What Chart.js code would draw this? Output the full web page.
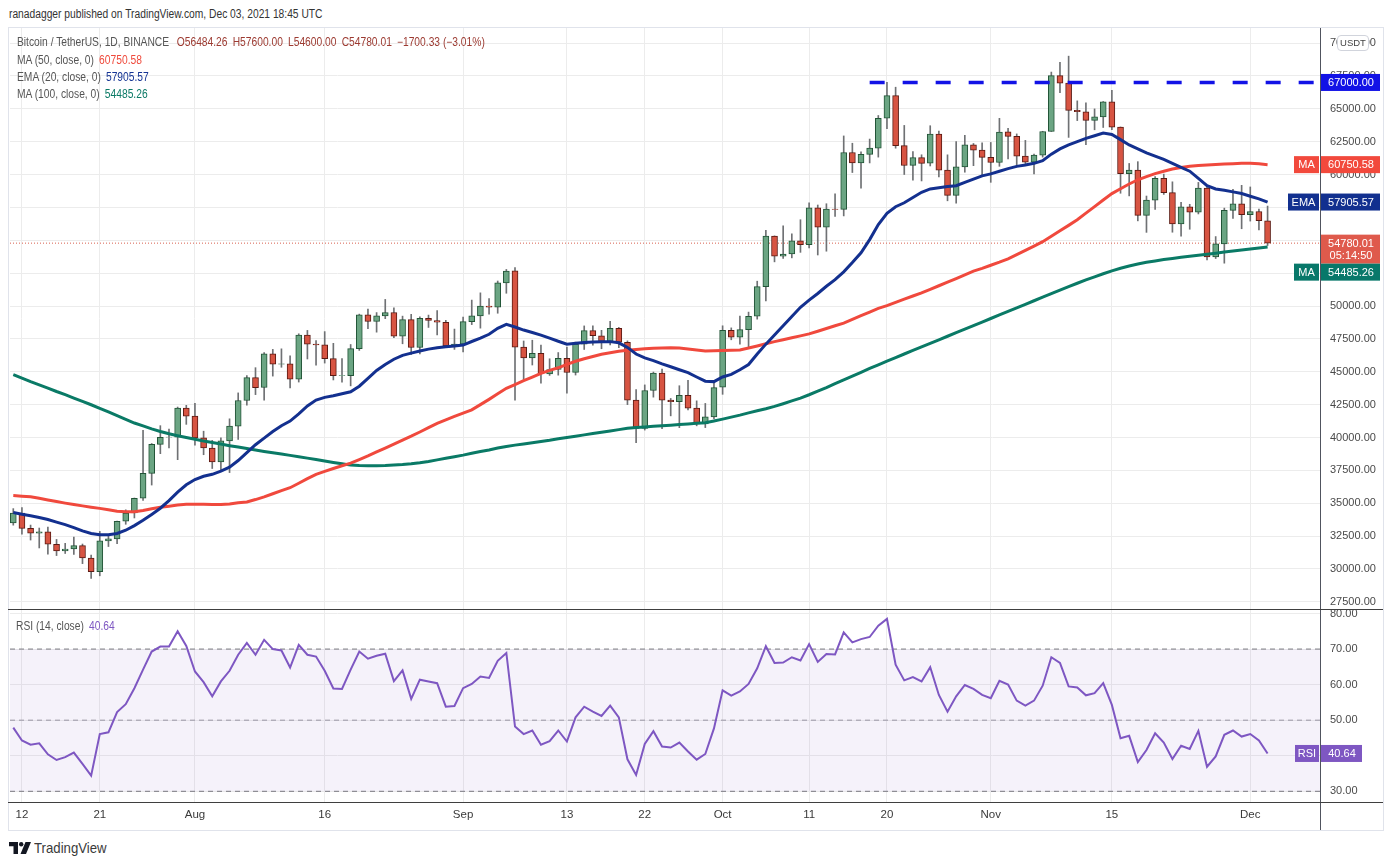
<!DOCTYPE html>
<html lang="en">
  <head>
    <meta charset="utf-8" />
    <meta name="viewport" content="width=device-width, initial-scale=1" />
    <title>BTCUSDT 1D</title>
    <style>
      * {
        margin: 0;
        padding: 0;
      }
      body {
        width: 1394px;
        height: 865px;
        position: relative;
        overflow: hidden;
        background: #fff;
        color: #333;
        font-family: "Liberation Sans", Arial, sans-serif;
      }
      .abs {
        position: absolute;
      }
      .frame {
        left: 8px;
        top: 27px;
        width: 1374px;
        height: 802px;
        border: 1px solid #e0e3eb;
      }
      .narrow {
        transform: scaleX(0.855);
        transform-origin: 0 0;
        white-space: nowrap;
      }
      .header {
        left: 9px;
        top: 7px;
        font-size: 12px;
        color: #333;
      }
      .legend {
        left: 17px;
        font-size: 12px;
        color: #555;
        line-height: 14px;
      }
      .legend span {
        margin-left: 6px;
      }
      .box {
        position: absolute;
      }
      .usdt {
        left: 1337px;
        top: 35px;
        width: 30px;
        height: 14px;
        border: 1px solid #d1d4dc;
        border-radius: 4px;
        background: #fff;
        font-size: 9.5px;
        line-height: 14px;
        text-align: center;
        color: #444;
      }
      .logoMark {
        left: 9px;
        top: 842px;
      }
      .logo {
        left: 34px;
        top: 839px;
        font-size: 15px;
        color: #3a3a3a;
        transform: scaleX(0.88);
      }
    </style>
  </head>
  <body>
    <div class="abs frame"></div>

    <div class="box" style="left:0; top:28px; width:1384px; height:581px;">
      <canvas id="priceChart"></canvas>
    </div>
    <div class="box" style="left:0; top:609px; width:1384px; height:221px;">
      <canvas id="rsiChart"></canvas>
    </div>

    <!-- pane separators and price scale border -->
    <div class="abs" style="left:1320px; top:28px; width:1px; height:802px; background:#50535e;"></div>
    <div class="abs" style="left:8px; top:609px; width:1375px; height:1px; background:#3f3f3f;"></div>
    <div class="abs" style="left:8px; top:802px; width:1375px; height:1px; background:#3f3f3f;"></div>
    <div class="abs usdt">USDT</div>

    <div class="abs narrow header">ranadagger published on TradingView.com, Dec 03, 2021 18:45 UTC</div>
    <div class="abs narrow legend" id="legend1" style="top:35px;"></div>
    <div class="abs narrow legend" id="legend2" style="top:53px;"></div>
    <div class="abs narrow legend" id="legend3" style="top:70px;"></div>
    <div class="abs narrow legend" id="legend4" style="top:87px;"></div>
    <div class="abs narrow legend" id="legendRsi" style="top:619px; left:16px;"></div>

    <svg class="abs logoMark" width="22" height="12" viewBox="0 0 22 12">
      <path d="M0 0 H9 V12 H4.5 V4.2 H0 Z" fill="#131722" />
      <circle cx="12.2" cy="2.2" r="2.2" fill="#131722" />
      <path d="M16.5 0 H22 L17 12 H11.5 Z" fill="#131722" />
    </svg>
    <div class="abs narrow logo">TradingView</div>

    <script src="https://cdn.jsdelivr.net/npm/chart.js"></script>
    <script>
      // daily candles, Jul 11 2021 (index 0) .. Dec 03 2021 (index 145)
      const opens = [
        33510, 34259, 33087, 32730, 32821, 31874, 31384, 31521, 31778, 30839,
        29791, 32144, 32287, 33634, 34261, 35382, 37276, 39473, 40016, 40018,
        42236, 41627, 39975, 39201, 38151, 39747, 40870, 42817, 44555, 43799,
        46366, 45585, 45593, 44428, 47793, 47096, 47048, 46004, 44695, 44710,
        46761, 49322, 48821, 49254, 49507, 47707, 48961, 46843, 49069, 48896,
        48764, 46970, 47100, 48810, 49246, 49999, 49918, 51756, 52666, 46868,
        46048, 46395, 44842, 45173, 46026, 44950, 47104, 48122, 47737, 47299,
        48294, 47241, 42843, 40694, 43574, 44895, 42839, 42716, 43208, 42236,
        41025, 41564, 43820, 48142, 47634, 48200, 49225, 51471, 55316, 53785,
        53955, 54949, 54660, 57471, 55997, 57370, 57347, 61672, 60876, 61528,
        62005, 64280, 66001, 62193, 60689, 61286, 60853, 63078, 60328, 58413,
        60575, 62253, 61859, 61300, 60911, 63254, 62897, 61395, 60940, 61470,
        63273, 67525, 66947, 64883, 64774, 64122, 64380, 65520, 63606, 60059,
        60345, 56891, 58057, 59707, 58617, 56247, 57541, 57138, 58960, 53723,
        54716, 57275, 57776, 56951, 57185, 56484.26,
      ];
      const highs = [
        34592, 34679, 33341, 33115, 33186, 32249, 31950, 32435, 31899, 31063,
        32858, 32591, 33650, 34500, 35398, 40550, 39543, 40900, 40640, 42316,
        42448, 42599, 40480, 39780, 39968, 41420, 43392, 44700, 45310, 46456,
        46700, 46743, 46219, 47887, 48144, 47372, 48053, 47160, 46000, 47073,
        49382, 49757, 49500, 50500, 49855, 49230, 49365, 49185, 49309, 49643,
        48910, 48246, 49156, 50450, 51000, 50558, 51900, 52780, 52920, 47340,
        47399, 47033, 45987, 46460, 46876, 47250, 48486, 48500, 48150, 48843,
        48372, 47347, 43639, 44000, 44978, 45200, 42970, 43937, 44350, 42787,
        42590, 44141, 48495, 48336, 49228, 49536, 51886, 55750, 55332, 56100,
        55489, 56561, 57839, 57680, 57777, 58532, 62933, 62378, 61718, 62695,
        64487, 67000, 66639, 63732, 61747, 61500, 63710, 63293, 61496, 62499,
        62980, 62359, 62405, 62437, 64270, 63516, 63086, 62595, 61560, 63286,
        67789, 68524, 69000, 65600, 65450, 64990, 65550, 66401, 63617, 60840,
        60976, 58363, 59845, 60029, 59444, 57875, 57735, 59398, 59150, 55280,
        57445, 58865, 59176, 59053, 57375, 57600.0,
      ];
      const lows = [
        33333, 32658, 32202, 31600, 31133, 31021, 31179, 31108, 30408, 29278,
        29482, 31708, 31925, 33401, 33881, 35206, 36384, 38772, 39200, 38313,
        41000, 39423, 38690, 37642, 37509, 37332, 39853, 42450, 43261, 42848,
        44669, 45341, 43770, 44217, 45971, 45500, 45660, 44376, 44203, 43927,
        46622, 48280, 48010, 49035, 47600, 47127, 46315, 46364, 48370, 47801,
        46853, 46700, 46512, 48584, 48316, 49370, 49450, 50969, 42843, 44412,
        45513, 44132, 44722, 44742, 43371, 44750, 46694, 47020, 46750, 47033,
        46829, 42500, 39600, 40565, 43069, 40675, 41646, 40750, 42098, 40888,
        40753, 41410, 43283, 47430, 47088, 46891, 49000, 50382, 53357, 53618,
        53661, 54080, 54415, 53879, 54167, 56818, 56850, 60150, 58963, 60880,
        61322, 63481, 62000, 60000, 59562, 59510, 60650, 59817, 58000, 57820,
        60174, 60673, 59945, 59405, 60624, 61184, 60677, 60721, 60050, 61322,
        63273, 66222, 62822, 64100, 62278, 63400, 63576, 63400, 58574, 58373,
        56474, 55600, 57353, 58486, 55610, 55317, 55837, 57000, 53500, 53610,
        53256, 56666, 55875, 56458, 55777, 54600.0,
      ];
      const closes = [
        34259, 33087, 32730, 32821, 31880, 31384, 31521, 31778, 30839, 29791,
        32144, 32287, 33634, 34258, 35382, 37276, 39473, 40016, 40027, 42236,
        41627, 39974, 39201, 38152, 39747, 40870, 42817, 44555, 43798, 46366,
        45585, 45593, 44428, 47793, 47096, 47048, 46004, 44695, 44710, 46761,
        49322, 48821, 49254, 49506, 47707, 48960, 46843, 49069, 48895, 48767,
        46970, 47100, 48810, 49246, 49999, 49915, 51756, 52663, 46863, 46048,
        46395, 44850, 45173, 46026, 44940, 47111, 48122, 47737, 47299, 48293,
        47241, 42843, 40694, 43574, 44895, 42839, 42716, 43208, 42235, 41034,
        41564, 43790, 48141, 47634, 48200, 49224, 51471, 55315, 53785, 53951,
        54949, 54660, 57471, 55996, 57367, 57347, 61672, 60875, 61528, 62010,
        64280, 66001, 62193, 60688, 61286, 60852, 63078, 60328, 58413, 60575,
        62253, 61859, 61299, 60911, 63219, 62896, 61395, 60937, 61470, 63273,
        67525, 66947, 64882, 64774, 64122, 64380, 65519, 63606, 60058, 60344,
        56891, 58052, 59707, 58622, 56247, 57541, 57138, 58960, 53726, 54721,
        57274, 57776, 56950, 57184, 56480.34, 54780.01,
      ];

      // indicators
      const ma50 = [
        35580, 35540, 35500, 35380, 35250, 35130, 35010, 34900, 34800, 34700,
        34610, 34500, 34400, 34360, 34350, 34450, 34580, 34700, 34780, 34860,
        34920, 34930, 34920, 34910, 34900, 34950, 35030, 35100, 35280, 35480,
        35720, 35960, 36180, 36520, 36870, 37200, 37420, 37640, 37850, 38050,
        38320, 38600, 38900, 39200, 39500, 39800, 40100, 40420, 40750, 41080,
        41340, 41600, 41850, 42100, 42500, 42900, 43320, 43740, 44030, 44320,
        44600, 44880, 45100, 45300, 45560, 45800, 45990, 46160, 46330, 46440,
        46560, 46640, 46700, 46740, 46780, 46810, 46830, 46800, 46730, 46650,
        46580, 46590, 46610, 46640, 46660, 46800, 46960, 47130, 47290, 47430,
        47580, 47730, 47880, 48080, 48290, 48500, 48700, 48980, 49260, 49540,
        49820, 50030, 50280, 50520, 50760, 51000, 51270, 51540, 51810, 52090,
        52370, 52650, 52860, 53100, 53330, 53580, 53900, 54230, 54560, 54890,
        55300, 55720, 56130, 56560, 57060, 57560, 58060, 58550, 58920, 59280,
        59600, 59840, 60070, 60250, 60420, 60540, 60620, 60680, 60720, 60760,
        60790, 60820, 60850, 60850, 60810, 60750.58,
      ];
      const ema20 = [
        34300, 34160, 34050, 33920, 33760, 33560, 33370, 33150, 32900, 32700,
        32610, 32600, 32700, 32950, 33300, 33700, 34150, 34620, 35200, 35850,
        36400, 36800, 37050, 37200, 37450, 37750, 38250, 38850, 39450, 39950,
        40450, 40900, 41250, 41800, 42400, 42850, 43050, 43170, 43330, 43480,
        43900, 44500, 45100, 45550, 45950, 46250, 46420, 46580, 46720, 46830,
        46900, 46960, 47030, 47300, 47550, 47850, 48300, 48600, 48400, 48170,
        47980, 47790, 47560, 47320, 47100, 47160, 47220, 47260, 47290, 47290,
        47200, 46850, 46350, 46050, 45850, 45600, 45380, 45150, 44930, 44600,
        44280, 44250, 44600, 44800, 45150, 45550, 46350, 47100, 47800, 48500,
        49200, 49900, 50450, 50950, 51500, 52000, 52600, 53300, 54050, 55050,
        56200, 57050, 57550, 57850, 58250, 58650, 58900, 59000, 59080, 59150,
        59400, 59650, 59900, 60050, 60250, 60450, 60620, 60720, 60850, 61050,
        61550, 61950, 62250, 62500, 62750, 62950, 63150, 63050, 62650, 62250,
        61950, 61650, 61400, 61150, 60850, 60550, 60250, 59700, 59150, 58900,
        58800, 58680, 58550, 58350, 58150, 57905.57,
      ];
      const ma100 = [
        44780, 44520, 44250, 44000, 43760, 43500, 43260, 43000, 42750, 42490,
        42220, 41940, 41660, 41380, 41100, 40880, 40660, 40460, 40280, 40140,
        40000, 39860, 39740, 39620, 39500, 39380, 39270, 39160, 39050, 38940,
        38840, 38740, 38640, 38540, 38430, 38320, 38210, 38100, 38000, 37900,
        37870, 37860, 37860, 37870, 37900, 37940, 38000, 38080, 38180, 38300,
        38420, 38540, 38660, 38800, 38930, 39050, 39200, 39320, 39420, 39510,
        39600, 39700, 39790, 39900, 40000, 40100, 40200, 40300, 40400, 40500,
        40600, 40700, 40760, 40800, 40850, 40890, 40930, 40980, 41030, 41080,
        41130, 41250, 41400, 41550, 41700, 41870, 42030, 42190, 42370, 42570,
        42780, 43000, 43250, 43520, 43800, 44100, 44380, 44670, 44960, 45250,
        45530, 45800, 46080, 46350, 46620, 46890, 47160, 47430, 47700, 47970,
        48240, 48510, 48780, 49050, 49320, 49590, 49860, 50130, 50400, 50670,
        50940, 51210, 51470, 51730, 51980, 52220, 52450, 52670, 52870, 53040,
        53190, 53320, 53430, 53530, 53620, 53700, 53780, 53860, 53940, 54020,
        54100, 54180, 54260, 54340, 54410, 54485.26,
      ];
      const rsi = [
        47.9, 44.3, 43.1, 43.5, 40.4, 38.8, 39.6, 40.9, 37.7, 34.4,
        46.1, 46.6, 52.3, 54.5, 59.0, 64.2, 69.3, 70.7, 70.7, 75.0,
        70.9, 63.7, 60.7, 56.7, 60.9, 63.9, 68.4, 71.7, 68.4, 72.6,
        70.0, 69.6, 64.8, 71.2, 68.4, 67.9, 63.9, 58.9, 58.8, 64.2,
        69.3, 67.3, 68.1, 68.7, 61.0, 64.0, 56.0, 61.4, 60.9, 60.4,
        53.8, 54.0, 59.0, 60.2, 62.3, 61.9, 66.7, 68.9, 48.2, 46.1,
        47.1, 43.1, 44.1, 47.1, 44.0, 50.8, 53.8, 52.4, 51.2, 54.1,
        50.8, 39.0, 34.6, 43.3, 46.9, 42.6, 42.3, 43.7, 41.2, 38.9,
        40.5, 47.7, 58.4, 56.9, 58.1, 60.2, 64.6, 70.8, 66.1, 66.2,
        67.7, 66.8, 71.4, 66.4, 68.6, 68.5, 74.7, 71.9, 72.8, 73.4,
        76.6, 78.5, 65.6, 61.2, 62.1, 60.9, 64.9, 57.1, 52.4, 56.7,
        59.9, 58.8, 57.1, 56.2, 61.1, 60.0, 55.5, 54.1, 55.5, 59.7,
        67.7, 66.1, 59.5, 59.2, 57.0, 57.6, 60.4, 54.3, 44.9, 45.6,
        38.2, 41.6, 46.3, 43.7, 39.1, 42.8, 41.9, 47.0, 36.9, 39.8,
        45.9, 47.1, 45.4, 46.1, 44.3, 40.64,
      ];

      // axis ticks
      const tickIdx = [1, 10, 21, 36, 52, 64, 73, 82, 92, 101, 113, 127, 143];
      const tickText = ["12", "21", "Aug", "16", "Sep", "13", "22", "Oct", "11", "20", "Nov", "15", "Dec"];
      const priceTicks = [27500, 30000, 32500, 35000, 37500, 40000, 42500, 45000, 47500, 50000, 52500, 55000, 57500, 60000, 62500, 65000, 67500, 70000];
      const rsiTicks = [30, 40, 50, 60, 70, 80];

      // horizontal resistance drawn on the chart
      const levelPrice = 67000;
      const levelStart = 99;
      const countdown = "05:14:50";

      // view window
      const xMin = -0.38;
      const xMax = 151.06;
      const priceMin = 26958;
      const priceMax = 71141;
      const rsiMin = 26.99;
      const rsiMax = 81.27;

      const green = "#6ba583";
      const greenEdge = "#225437";
      const red = "#d75442";
      const redEdge = "#5b1a13";
      const gridColor = "#ececec";
      const font = '"Liberation Sans", sans-serif';

      const n = closes.length;
      const last = n - 1;
      const up = (i) => closes[i] >= opens[i];
      const series = (arr) => arr.map((v, i) => ({ x: i, y: v }));

      // legend text
      const chg = closes[last] - closes[last - 1];
      const pct = (chg / closes[last - 1]) * 100;
      const ohlcColor = "#9c3a31";
      document.getElementById("legend1").innerHTML =
        'Bitcoin / TetherUS, 1D, BINANCE<span style="color:' + ohlcColor + '; margin-left:9px">O' + opens[last].toFixed(2) +
        '</span><span style="color:' + ohlcColor + '">H' + highs[last].toFixed(2) +
        '</span><span style="color:' + ohlcColor + '">L' + lows[last].toFixed(2) +
        '</span><span style="color:' + ohlcColor + '">C' + closes[last].toFixed(2) +
        '</span><span style="color:' + ohlcColor + '">\u2212' + Math.abs(chg).toFixed(2) + " (\u2212" + Math.abs(pct).toFixed(2) + "%)</span>";
      document.getElementById("legend2").innerHTML = 'MA (50, close, 0)<span style="color:#ef4a3c">' + ma50[last].toFixed(2) + "</span>";
      document.getElementById("legend3").innerHTML = 'EMA (20, close, 0)<span style="color:#163594">' + ema20[last].toFixed(2) + "</span>";
      document.getElementById("legend4").innerHTML = 'MA (100, close, 0)<span style="color:#0b7a66">' + ma100[last].toFixed(2) + "</span>";
      document.getElementById("legendRsi").innerHTML = 'RSI (14, close)<span style="color:#7e57c2">' + rsi[last].toFixed(2) + "</span>";

      // price labels on the right scale
      function drawBadges(chart, items) {
        const { ctx, chartArea, scales } = chart;
        const right = chartArea.right;
        const h = 17;
        let prevBottom = -Infinity;
        items
          .map((it) => ({ ...it, py: scales.y.getPixelForValue(it.value) }))
          .sort((a, b) => a.py - b.py)
          .forEach((it) => {
            const boxH = h * it.lines.length - (it.lines.length > 1 ? 5 : 0);
            let top = it.py - h / 2;
            if (top < prevBottom) top = prevBottom;
            prevBottom = top + boxH;
            ctx.save();
            ctx.fillStyle = it.color;
            ctx.fillRect(right, top, it.w, boxH);
            if (it.tag) {
              ctx.fillRect(right - it.tagW - 1, top, it.tagW, h);
            }
            ctx.fillStyle = "#fff";
            ctx.font = "11px " + font;
            ctx.textBaseline = "middle";
            ctx.textAlign = "center";
            it.lines.forEach((t, k) => {
              ctx.fillText(t, right + it.w / 2 + 1, top + h / 2 + k * (h - 5) + 0.5);
            });
            if (it.tag) ctx.fillText(it.tag, right - it.tagW / 2 - 1, top + h / 2 + 0.5);
            ctx.restore();
          });
      }

      const priceBadges = {
        id: "priceBadges",
        afterDraw(chart) {
          drawBadges(chart, [
            { value: levelPrice, lines: [levelPrice.toFixed(2)], color: "#1212e6", w: 60 },
            { value: ma50[last], lines: [ma50[last].toFixed(2)], color: "#f2493c", w: 60, tag: "MA", tagW: 25 },
            { value: ema20[last], lines: [ema20[last].toFixed(2)], color: "#12308f", w: 60, tag: "EMA", tagW: 31 },
            { value: closes[last], lines: [closes[last].toFixed(2), countdown], color: "#df5a4c", w: 60 },
            { value: ma100[last], lines: [ma100[last].toFixed(2)], color: "#08786a", w: 60, tag: "MA", tagW: 25 },
          ]);
        },
      };

      const rsiBadges = {
        id: "rsiBadges",
        afterDraw(chart) {
          drawBadges(chart, [
            { value: rsi[last], lines: [rsi[last].toFixed(2)], color: "#7e57c2", w: 42, tag: "RSI", tagW: 24 },
          ]);
        },
      };

      const xScale = (showLabels) => ({
        type: "linear",
        min: xMin,
        max: xMax,
        offset: false,
        afterBuildTicks: (axis) => {
          axis.ticks = tickIdx.map((v) => ({ value: v }));
        },
        ticks: {
          display: showLabels,
          autoSkip: false,
          maxRotation: 0,
          padding: 6,
          color: "#3a3a3a",
          font: { family: font, size: 11.5 },
          callback: (v) => tickText[tickIdx.indexOf(v)],
        },
        grid: { color: gridColor, drawTicks: false, offset: false },
        border: { display: false },
        afterFit: (s) => {
          s.height = showLabels ? 28 : 0;
          s.paddingLeft = 0;
          s.paddingRight = 0;
        },
      });

      const yScale = (min, max, ticks) => ({
        position: "right",
        min: min,
        max: max,
        afterBuildTicks: (axis) => {
          axis.ticks = ticks.map((v) => ({ value: v }));
        },
        ticks: {
          padding: 10,
          color: "#4a4a4a",
          font: { family: font, size: 11 },
          callback: (v) => v.toFixed(2),
        },
        grid: { color: gridColor, drawTicks: false },
        border: { display: false },
        afterFit: (s) => {
          s.width = 64;
          s.paddingTop = 0;
          s.paddingBottom = 0;
        },
      });

      // price pane
      new Chart(document.getElementById("priceChart"), {
        type: "bar",
        data: {
          datasets: [
            {
              type: "line",
              data: [
                { x: xMin, y: closes[last] },
                { x: xMax, y: closes[last] },
              ],
              borderColor: "#d9604f",
              borderWidth: 1,
              borderDash: [1, 2],
              pointRadius: 0,
              order: 9,
            },
            {
              data: closes.map((c, i) => ({ x: i, y: [lows[i], highs[i]] })),
              backgroundColor: "#6f7174",
              barThickness: 1,
              grouped: false,
              order: 8,
            },
            {
              data: closes.map((c, i) => ({ x: i, y: [opens[i], c] })),
              backgroundColor: (ctx) => (up(ctx.dataIndex) ? green : red),
              borderColor: (ctx) => (up(ctx.dataIndex) ? greenEdge : redEdge),
              borderWidth: 1,
              borderSkipped: false,
              barThickness: 6,
              grouped: false,
              order: 7,
            },
            {
              type: "line",
              data: series(ma100),
              borderColor: "#0a7a66",
              borderWidth: 3,
              pointRadius: 0,
              order: 3,
            },
            {
              type: "line",
              data: series(ma50),
              borderColor: "#f0493d",
              borderWidth: 3,
              pointRadius: 0,
              order: 2,
            },
            {
              type: "line",
              data: series(ema20),
              borderColor: "#13308f",
              borderWidth: 3,
              pointRadius: 0,
              order: 1,
            },
            {
              type: "line",
              data: [
                { x: levelStart, y: levelPrice },
                { x: xMax, y: levelPrice },
              ],
              borderColor: "#1212e6",
              borderWidth: 3.5,
              borderDash: [15, 18],
              pointRadius: 0,
              order: 0,
            },
          ],
        },
        options: {
          responsive: true,
          maintainAspectRatio: false,
          animation: false,
          events: [],
          layout: { autoPadding: false, padding: { left: 10, right: 0, top: 0, bottom: 0 } },
          plugins: { legend: { display: false }, tooltip: { enabled: false } },
          scales: {
            x: xScale(false),
            y: yScale(priceMin, priceMax, priceTicks),
          },
        },
        plugins: [priceBadges],
      });

      // RSI pane
      new Chart(document.getElementById("rsiChart"), {
        type: "line",
        data: {
          datasets: [
            {
              data: series(rsi),
              borderColor: "#7e57c2",
              borderWidth: 2,
              pointRadius: 0,
              order: 0,
            },
            {
              data: [
                { x: xMin, y: 70 },
                { x: xMax, y: 70 },
              ],
              borderColor: "#7a7a80",
              borderWidth: 1,
              borderDash: [5, 4],
              pointRadius: 0,
              fill: "+1",
              backgroundColor: "rgba(126, 87, 194, 0.08)",
              order: 1,
            },
            {
              data: [
                { x: xMin, y: 30 },
                { x: xMax, y: 30 },
              ],
              borderColor: "#7a7a80",
              borderWidth: 1,
              borderDash: [5, 4],
              pointRadius: 0,
              order: 1,
            },
            {
              data: [
                { x: xMin, y: 50 },
                { x: xMax, y: 50 },
              ],
              borderColor: "#9a9aa0",
              borderWidth: 1,
              borderDash: [5, 4],
              pointRadius: 0,
              order: 1,
            },
          ],
        },
        options: {
          responsive: true,
          maintainAspectRatio: false,
          animation: false,
          events: [],
          layout: { autoPadding: false, padding: { left: 10, right: 0, top: 0, bottom: 0 } },
          plugins: { legend: { display: false }, tooltip: { enabled: false } },
          scales: {
            x: xScale(true),
            y: yScale(rsiMin, rsiMax, rsiTicks),
          },
        },
        plugins: [rsiBadges],
      });
    </script>
  </body>
</html>
